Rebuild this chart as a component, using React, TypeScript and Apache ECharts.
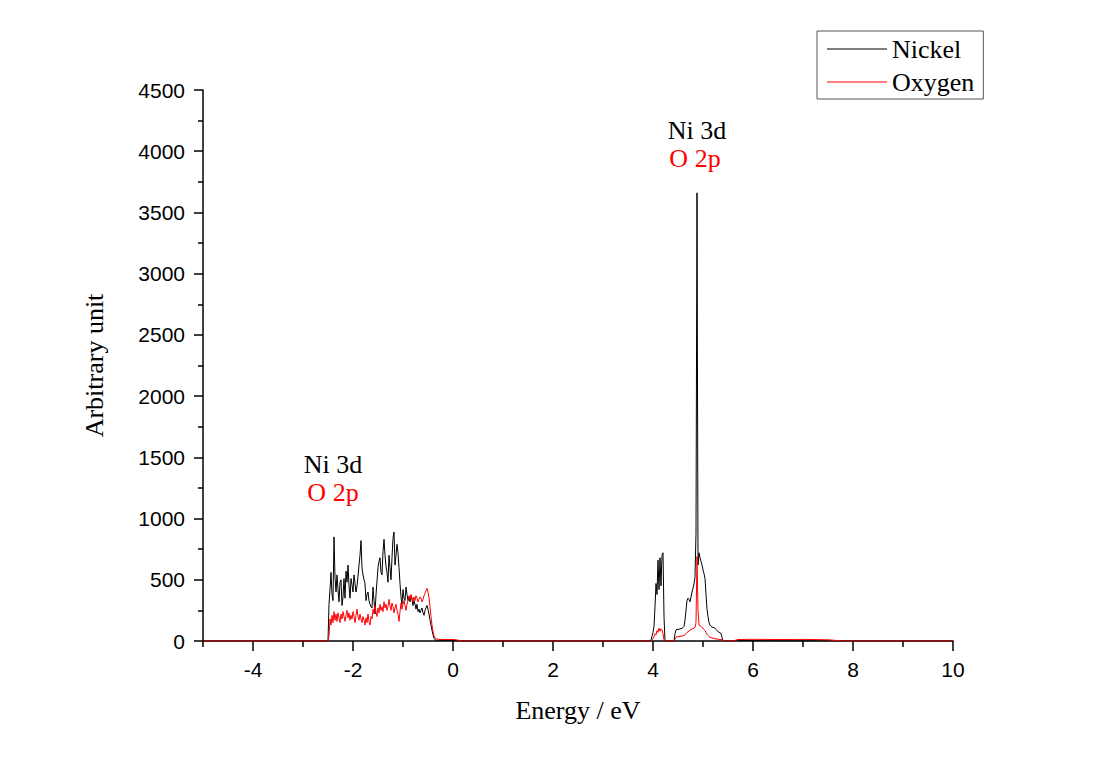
import { useEffect, useRef } from "react";
import * as echarts from "echarts";

// ---- Data (energy in eV, density of states in arbitrary units) ----
const leadEnergy = [-5.0, -2.54];
const leadNickel = [0, 0];
const leadOxygen = [0, 0];

const valenceEnergy = [
  -2.52, -2.5, -2.48, -2.46, -2.44, -2.42, -2.4, -2.38, -2.36, -2.34,
  -2.32, -2.3, -2.28, -2.26, -2.24, -2.22, -2.2, -2.18, -2.16, -2.14,
  -2.12, -2.1, -2.08, -2.06, -2.04, -2.02, -2.0, -1.98, -1.96, -1.94,
  -1.92, -1.9, -1.88, -1.86, -1.84, -1.82, -1.8, -1.78, -1.76, -1.74,
  -1.72, -1.7, -1.68, -1.66, -1.64, -1.62, -1.6, -1.58, -1.56, -1.54,
  -1.52, -1.5, -1.48, -1.46, -1.44, -1.42, -1.4, -1.38, -1.36, -1.34,
  -1.32, -1.3, -1.28, -1.26, -1.24, -1.22, -1.2, -1.18, -1.16, -1.14,
  -1.12, -1.1, -1.08, -1.06, -1.04, -1.02, -1.0, -0.98, -0.96, -0.94,
  -0.92, -0.9, -0.88, -0.86, -0.84, -0.82, -0.8, -0.78, -0.76, -0.74,
  -0.72, -0.7, -0.68, -0.66, -0.64, -0.62, -0.6, -0.58, -0.56, -0.54,
  -0.52, -0.5, -0.48, -0.46, -0.44, -0.42, -0.4, -0.38, -0.36, -0.34,
  -0.3, -0.24, -0.18, -0.12, -0.06, 0.0, 0.06, 0.12, 0.16,
];
const valenceNickel = [
  0, 0, 300, 420, 560, 380, 330, 850, 520, 400,
  540, 420, 320, 480, 500, 290, 360, 510, 350, 570,
  480, 620, 450, 350, 510, 460, 400, 540, 470, 400,
  450, 530, 620, 700, 820, 600, 540, 500, 470, 330,
  380, 400, 330, 300, 280, 270, 440, 330, 220, 380,
  490, 600, 650, 680, 560, 540, 730, 830, 700, 610,
  560, 480, 700, 600, 500, 680, 840, 890, 620, 700,
  790, 720, 600, 470, 360, 300, 420, 350, 330, 440,
  380, 330, 360, 320, 370, 340, 290, 330, 300, 260,
  300, 240, 260, 230, 250, 270, 230, 210, 250, 270,
  290, 260, 220, 170, 130, 90, 50, 22, 10, 6,
  6, 6, 5, 5, 5, 4, 3, 0, 0,
];
const valenceOxygen = [
  0, 0, 40, 180, 130, 210, 150, 240, 170, 220,
  160, 230, 190, 150, 220, 180, 240, 200, 160, 210,
  250, 190, 230, 170, 210, 180, 240, 200, 150, 210,
  260, 200, 170, 220, 180, 150, 200, 170, 130, 190,
  150, 220, 160, 130, 200, 180, 260, 220, 290, 240,
  200, 270, 230, 300, 250, 280, 240, 320, 270, 300,
  250, 280, 340, 290, 250, 310, 280, 230, 270, 300,
  250, 220, 160, 240, 310, 260, 300, 330, 290, 250,
  300, 330, 370, 340, 380, 350, 320, 360, 330, 370,
  350, 320, 340, 360, 350, 320, 340, 370, 390, 410,
  430, 400, 350, 280, 200, 130, 80, 45, 28, 20,
  14, 13, 12, 12, 12, 12, 10, 5, 0,
];

const conductionEnergy = [
  3.9, 3.94, 3.96, 3.98, 4.0, 4.02, 4.04, 4.06, 4.08, 4.1, 4.12, 4.14, 4.16, 4.18, 4.2, 4.22, 4.24,
  4.4, 4.42, 4.44, 4.46, 4.48, 4.5, 4.52, 4.54, 4.56, 4.58, 4.6, 4.62, 4.64, 4.66, 4.68, 4.7,
  4.72, 4.74, 4.76, 4.78, 4.8, 4.82, 4.84, 4.86, 4.88, 4.9, 4.92, 4.94, 4.96, 4.98, 5.0,
  5.02, 5.04, 5.06, 5.08, 5.1, 5.12, 5.14, 5.16, 5.18, 5.2, 5.22, 5.24, 5.26, 5.28, 5.3,
  5.32, 5.34, 5.36, 5.38, 5.4,
  5.6, 5.7, 6.0, 6.5, 7.0, 7.5, 7.8, 10.0,
];
const conductionNickel = [
  0, 0, 10, 40, 70, 120, 280, 470, 380, 660, 420, 680, 450, 700, 720, 200, 0,
  0, 0, 60, 90, 95, 95, 95, 100, 100, 105, 110, 120, 170, 250, 330, 350,
  340, 320, 360, 400, 430, 470, 520, 880, 3660, 620, 720, 680, 650, 620, 580,
  550, 510, 380, 260, 200, 150, 130, 120, 115, 110, 110, 105, 95, 85, 78,
  72, 66, 62, 30, 0,
  0, 3, 3, 2, 2, 1, 0, 0,
];
const conductionOxygen = [
  0, 0, 0, 5, 20, 35, 60, 50, 85, 70, 105, 80, 100, 90, 60, 10, 0,
  0, 0, 15, 30, 35, 35, 35, 38, 40, 40, 42, 45, 50, 60, 70, 75,
  80, 90, 95, 98, 100, 105, 110, 150, 690, 250, 130, 125, 120, 110, 105,
  95, 85, 70, 55, 45, 35, 30, 27, 24, 22, 20, 18, 17, 16, 15,
  14, 12, 11, 10, 0,
  0, 12, 14, 12, 13, 10, 0, 0,
];

const majorXTicks = [-4, -2, 0, 2, 4, 6, 8, 10];
const minorXTicks = [-5, -3, -1, 1, 3, 5, 7, 9];

const seriesNames = ["Nickel", "Oxygen"];
const annotationLines = ["Ni 3d", "O 2p"];

export default function App() {
  const ref = useRef<HTMLDivElement>(null);

  useEffect(() => {
    if (!ref.current) return;
    const chart = echarts.init(ref.current, null, { renderer: "svg" });

    const energy = [...leadEnergy, ...valenceEnergy, ...conductionEnergy];
    const nickel = [...leadNickel, ...valenceNickel, ...conductionNickel];
    const oxygen = [...leadOxygen, ...valenceOxygen, ...conductionOxygen];
    const pairs = (vals: number[]) => energy.map((e, i) => [e, vals[i]]);

    const sans = "Liberation Sans";
    const serif = "Liberation Serif";
    const axisColor = "#000";

    chart.setOption({
      animation: false,
      backgroundColor: "#ffffff",
      grid: { left: 203, right: 142, top: 90, bottom: 122 },
      legend: {
        orient: "vertical",
        left: 817,
        top: 31,
        padding: [5, 9, 4, 10],
        icon: "rect",
        itemWidth: 60,
        itemHeight: 1,
        itemGap: 7,
        borderColor: "#555",
        borderWidth: 1,
        textStyle: { fontFamily: serif, fontSize: 26, color: "#000" },
        data: seriesNames,
      },
      xAxis: [
        {
          type: "value",
          min: -5,
          max: 10,
          position: "bottom",
          name: "Energy / eV",
          nameLocation: "middle",
          nameGap: 56,
          nameTextStyle: { fontFamily: serif, fontSize: 26, color: "#000" },
          axisLine: { show: true, onZero: false, lineStyle: { color: axisColor, width: 1.5 } },
          axisTick: {
            show: true,
            customValues: majorXTicks,
            length: 10,
            lineStyle: { color: axisColor, width: 1.5 },
          },
          axisLabel: {
            customValues: majorXTicks,
            margin: 18,
            fontFamily: sans,
            fontSize: 21,
            color: "#000",
          },
          splitLine: { show: false },
        },
        {
          type: "value",
          min: -5,
          max: 10,
          position: "bottom",
          axisLine: { show: false, onZero: false },
          axisTick: {
            show: true,
            customValues: minorXTicks,
            length: 6,
            lineStyle: { color: axisColor, width: 1.5 },
          },
          axisLabel: { show: false },
          splitLine: { show: false },
        },
      ],
      yAxis: {
        type: "value",
        min: 0,
        max: 4500,
        interval: 500,
        name: "Arbitrary unit",
        nameLocation: "middle",
        nameGap: 96,
        nameTextStyle: { fontFamily: serif, fontSize: 26, color: "#000" },
        axisLine: { show: true, onZero: false, lineStyle: { color: axisColor, width: 1.5 } },
        axisTick: { show: true, length: 9, lineStyle: { color: axisColor, width: 1.5 } },
        minorTick: { show: true, splitNumber: 2, length: 5, lineStyle: { color: axisColor, width: 1.5 } },
        minorSplitLine: { show: false },
        axisLabel: {
          margin: 18,
          fontFamily: sans,
          fontSize: 21,
          color: "#000",
          formatter: (v: number) => String(v),
        },
        splitLine: { show: false },
      },
      series: [
        {
          name: seriesNames[0],
          type: "line",
          xAxisIndex: 0,
          symbol: "none",
          lineStyle: { color: "#000000", width: 1 },
          itemStyle: { color: "#000000" },
          data: pairs(nickel),
        },
        {
          name: seriesNames[1],
          type: "line",
          xAxisIndex: 0,
          symbol: "none",
          lineStyle: { color: "#ff0000", width: 1 },
          itemStyle: { color: "#ff0000" },
          data: pairs(oxygen),
        },
      ],
      graphic: [
        {
          type: "text",
          style: { x: 333, y: 464, text: annotationLines[0], fill: "#000", font: `26px "${serif}"`, textAlign: "center", textVerticalAlign: "middle" },
        },
        {
          type: "text",
          style: { x: 333, y: 492, text: annotationLines[1], fill: "#ff0000", font: `26px "${serif}"`, textAlign: "center", textVerticalAlign: "middle" },
        },
        {
          type: "text",
          style: { x: 697, y: 130, text: annotationLines[0], fill: "#000", font: `26px "${serif}"`, textAlign: "center", textVerticalAlign: "middle" },
        },
        {
          type: "text",
          style: { x: 695, y: 158, text: annotationLines[1], fill: "#ff0000", font: `26px "${serif}"`, textAlign: "center", textVerticalAlign: "middle" },
        },
      ],
    });

    return () => chart.dispose();
  }, []);

  return (
    <div
      ref={ref}
      style={{ position: "fixed", left: 0, top: 0, width: 1095, height: 763, background: "#fff" }}
    />
  );
}
